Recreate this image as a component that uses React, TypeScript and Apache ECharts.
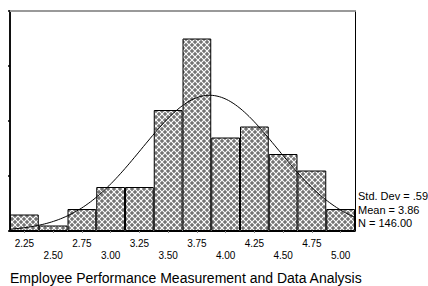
import React, { useEffect, useRef } from "react";
import * as echarts from "echarts";

// Histogram bins (centres) and counts
const binLabels = ["2.25", "2.50", "2.75", "3.00", "3.25", "3.50", "3.75", "4.00", "4.25", "4.50", "4.75", "5.00"];
const counts = [3, 1, 4, 8, 8, 22, 35, 17, 19, 14, 11, 4];
const yTicks = [0, 10, 20, 30, 40];
const statLines = ["Std. Dev = .59", "Mean = 3.86", "N = 146.00"];
const statMean = [3.86];
const statSd = [0.59];
const statN = [146];
const binWidth = [0.25];
const xRange = [2.125, 5.125];
const titleText = "Employee Performance Measurement and Data Analysis";

const FONT = 'Arial, "Liberation Sans", sans-serif';

function normalCurve(): number[][] {
  // fitted normal curve defined by the displayed statistics
  const m = statMean[0], s = statSd[0], n = statN[0], w = binWidth[0];
  const pts: number[][] = [];
  const steps = 150;
  for (let i = 0; i <= steps; i++) {
    const x = xRange[0] + ((xRange[1] - xRange[0]) * i) / steps;
    const y = (n * w) / (s * Math.sqrt(2 * Math.PI)) * Math.exp(-((x - m) ** 2) / (2 * s * s));
    pts.push([x, y]);
  }
  return pts;
}

const tileSvg =
  "<svg xmlns='http://www.w3.org/2000/svg' width='6' height='6'>" +
  "<rect width='6' height='6' fill='#737373'/>" +
  "<path d='M0 0L6 6M6 0L0 6' stroke='#ffffff' stroke-width='1.1'/>" +
  "</svg>";
const tileUrl = "data:image/svg+xml;charset=utf-8," + encodeURIComponent(tileSvg);

export default function App() {
  const ref = useRef<HTMLDivElement>(null);
  useEffect(() => {
    if (!ref.current) return;
    const chart = echarts.init(ref.current, undefined, { renderer: "svg" });
    const option: any = {
      animation: false,
      backgroundColor: "#ffffff",
      grid: { left: 10, right: 73, top: 11, bottom: 55 },
      xAxis: [
        {
          type: "category",
          data: binLabels,
          boundaryGap: true,
          axisLine: { show: true, lineStyle: { color: "#000", width: 1 } },
          axisTick: { show: true, alignWithLabel: true, length: 2, lineStyle: { color: "#888" } },
          axisLabel: {
            interval: 0,
            margin: 6,
            fontSize: 10,
            fontFamily: FONT,
            color: "#000",
            lineHeight: 12,
            formatter: (v: string, i: number) => (i % 2 === 0 ? v : "\n" + v),
          },
          splitLine: { show: false },
        },
        {
          type: "value",
          position: "top",
          min: xRange[0],
          max: xRange[1],
          axisLine: { show: true, onZero: false, lineStyle: { color: "#999", width: 2 } },
          axisTick: { show: false },
          axisLabel: { show: false },
          splitLine: { show: false },
        },
      ],
      yAxis: [
        {
          type: "value",
          min: yTicks[0],
          max: yTicks[yTicks.length - 1],
          interval: 10,
          axisLine: { show: true, lineStyle: { color: "#111", width: 2 } },
          axisTick: { show: true, length: 2, lineStyle: { color: "#000", width: 1.5 } },
          axisLabel: { show: false },
          splitLine: { show: false },
        },
        {
          type: "value",
          position: "right",
          min: yTicks[0],
          max: yTicks[yTicks.length - 1],
          interval: 10,
          axisLine: { show: true, lineStyle: { color: "#000", width: 1 } },
          axisTick: { show: false },
          axisLabel: { show: false },
          splitLine: { show: false },
        },
      ],
      series: [
        {
          type: "bar",
          data: counts,
          xAxisIndex: 0,
          yAxisIndex: 0,
          barWidth: "100%",
          barGap: "0%",
          itemStyle: {
            color: { image: tileUrl, repeat: "repeat", imageWidth: 6, imageHeight: 6 },
            borderColor: "#000",
            borderWidth: 1,
          },
          emphasis: { disabled: true },
          z: 2,
        },
        {
          type: "line",
          data: normalCurve(),
          xAxisIndex: 1,
          yAxisIndex: 0,
          showSymbol: false,
          symbol: "none",
          lineStyle: { color: "#000", width: 1 },
          z: 3,
        },
      ],
      graphic: [
        ...statLines.map((t, i) => ({
          type: "text",
          x: 358,
          y: 196 + i * 13.5,
          style: { text: t, fontSize: 11, fontFamily: FONT, fill: "#000", verticalAlign: "middle" },
        })),
        {
          type: "text",
          x: 10,
          y: 278,
          style: { text: titleText, fontSize: 14, fontFamily: FONT, fill: "#000", verticalAlign: "middle" },
        },
      ],
    };
    chart.setOption(option);
    return () => chart.dispose();
  }, []);
  return (
    <div
      ref={ref}
      style={{ position: "fixed", left: 0, top: 0, width: 428, height: 286, background: "#fff" }}
    />
  );
}
